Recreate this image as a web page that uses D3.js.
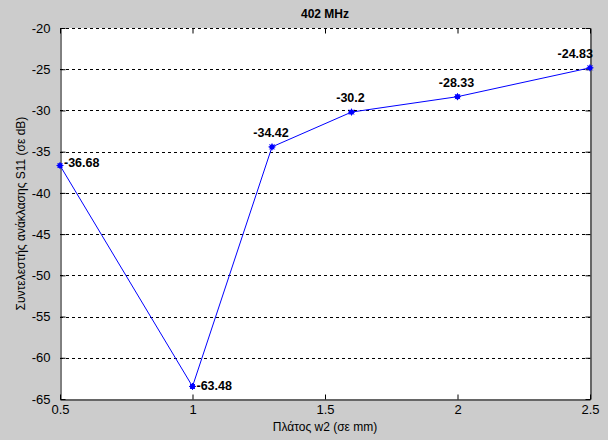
<!DOCTYPE html>
<html><head><meta charset="utf-8">
<script src="https://cdn.jsdelivr.net/npm/d3@7"></script>
<style>
html,body{margin:0;padding:0;background:#cccccc;}
svg{display:block;font-family:"Liberation Sans",Arial,sans-serif;}
</style></head>
<body>
<svg id="chart" width="608" height="440"></svg>
<script>
const widths = [0.5, 1, 1.3, 1.6, 2, 2.5];
const s11 = [-36.68, -63.48, -34.42, -30.2, -28.33, -24.83];
const valueLabels = ["-36.68", "-63.48", "-34.42", "-30.2", "-28.33", "-24.83"];
const labelAlign = ["right", "rightMid", "above", "above", "above", "aboveLeft"];
const xTicks = [0.5, 1, 1.5, 2, 2.5];
const yTicks = [-65, -60, -55, -50, -45, -40, -35, -30, -25, -20];
const title = "402 MHz";
const xTitle = "Πλάτος w2 (σε mm)";
const yTitle = "Συντελεστής ανάκλασης S11 (σε dB)";

const svg = d3.select("#chart");
const m = {left: 60, top: 28, right: 590, bottom: 399};
const x = d3.scaleLinear().domain([0.5, 2.5]).range([m.left, m.right]);
const y = d3.scaleLinear().domain([-65, -20]).range([m.bottom, m.top]);

svg.append("rect").attr("width", 608).attr("height", 440).attr("fill", "#cccccc");
svg.append("rect").attr("x", m.left).attr("y", m.top)
  .attr("width", m.right - m.left).attr("height", m.bottom - m.top).attr("fill", "#ffffff");

// horizontal grid
svg.append("g").selectAll("line").data(yTicks.filter(v => v > -65)).join("line")
  .attr("x1", m.left).attr("x2", m.right)
  .attr("y1", d => Math.round(y(d)) + 0.5).attr("y2", d => Math.round(y(d)) + 0.5)
  .attr("stroke", "#000").attr("stroke-width", 1).attr("stroke-dasharray", "3,3");

const fmt = d => String(d);
// axes
const xAxis = d3.axisBottom(x).tickValues(xTicks).tickFormat(fmt).tickSizeInner(-5).tickSizeOuter(0).tickPadding(10);
const gx = svg.append("g").attr("transform", `translate(0,${m.bottom + 0.5})`).call(xAxis);
const xAxisTop = d3.axisTop(x).tickValues(xTicks).tickFormat("").tickSizeInner(-5).tickSizeOuter(0);
const gxt = svg.append("g").attr("transform", `translate(0,${m.top + 0.5})`).call(xAxisTop);
gxt.select(".domain").remove();
const yAxis = d3.axisLeft(y).tickValues(yTicks).tickFormat(fmt).tickSizeInner(-5).tickSizeOuter(0).tickPadding(10);
const gy = svg.append("g").attr("transform", `translate(${m.left + 0.5},0)`).call(yAxis);
const yAxisRight = d3.axisRight(y).tickValues(yTicks).tickFormat("").tickSizeInner(-5).tickSizeOuter(0);
const gyr = svg.append("g").attr("transform", `translate(${m.right + 0.5},0)`).call(yAxisRight);

[gx, gy, gxt, gyr].forEach(g => {
  g.selectAll("path.domain").attr("stroke", "#000");
  g.selectAll(".tick line").attr("stroke", "#000");
  g.selectAll("text").attr("font-size", 13).attr("fill", "#000")
    .attr("font-family", "'Liberation Sans', Arial, sans-serif");
});
gx.selectAll(".tick text").attr("dy", "0.71em").attr("y", 5);

// top border (dashed like grid over box)
svg.append("line").attr("x1", m.left).attr("x2", m.right)
  .attr("y1", m.top + 0.5).attr("y2", m.top + 0.5)
  .attr("stroke", "#000").attr("stroke-dasharray", "3,3");

// line
const pts = widths.map((w, i) => [w, s11[i]]);
svg.append("path").datum(pts)
  .attr("d", d3.line().x(d => x(d[0])).y(d => y(d[1])))
  .attr("fill", "none").attr("stroke", "#0000ff").attr("stroke-width", 1);

// markers
const mk = svg.append("g");
pts.forEach(p => {
  const cx = x(p[0]), cy = y(p[1]);
  mk.append("circle").attr("cx", cx).attr("cy", cy).attr("r", 2.6).attr("fill", "#0000ff");
  mk.append("path").attr("d", `M${cx-3.5},${cy}H${cx+3.5}M${cx},${cy-3.5}V${cy+3.5}M${cx-2.5},${cy-2.5}L${cx+2.5},${cy+2.5}M${cx-2.5},${cy+2.5}L${cx+2.5},${cy-2.5}`)
    .attr("stroke", "#0000ff").attr("stroke-width", 1);
});

// value labels
const isRight = a => a === "right" || a === "rightMid";
svg.append("g").selectAll("text").data(pts).join("text")
  .attr("x", (d, i) => isRight(labelAlign[i]) ? x(d[0]) + 4 : labelAlign[i] === "aboveLeft" ? x(d[0]) + 3 : x(d[0]) - 1)
  .attr("y", (d, i) => labelAlign[i] === "right" ? y(d[1]) + 1 : labelAlign[i] === "rightMid" ? y(d[1]) + 4 : y(d[1]) - 10)
  .attr("text-anchor", (d, i) => isRight(labelAlign[i]) ? "start" : labelAlign[i] === "aboveLeft" ? "end" : "middle")
  .attr("font-size", 12.5).attr("font-weight", "bold").attr("fill", "#000")
  .text((d, i) => valueLabels[i]);

// titles
svg.append("text").attr("x", (m.left + m.right) / 2).attr("y", 18)
  .attr("text-anchor", "middle").attr("font-size", 12).attr("font-weight", "bold").text(title);
svg.append("text").attr("x", (m.left + m.right) / 2).attr("y", 431)
  .attr("text-anchor", "middle").attr("font-size", 12).text(xTitle);
svg.append("text").attr("transform", `translate(25,${(m.top + m.bottom) / 2}) rotate(-90)`)
  .attr("text-anchor", "middle").attr("font-size", 12).text(yTitle);
</script>
</body></html>
